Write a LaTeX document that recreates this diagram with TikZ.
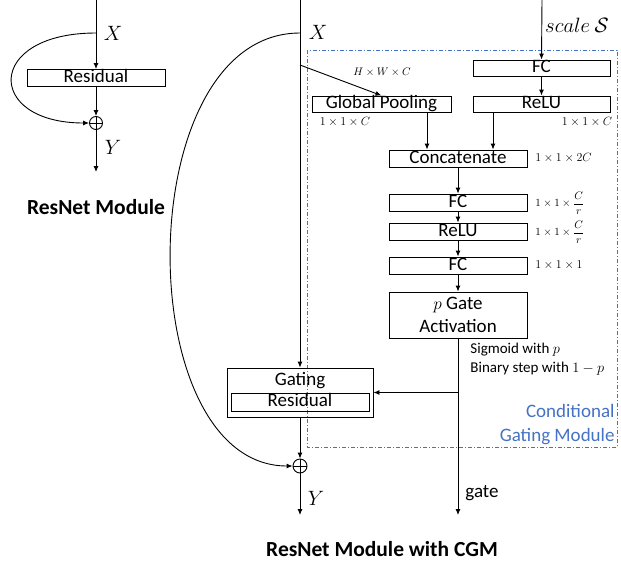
\documentclass[tikz,border=0pt]{standalone}
\usepackage{fontspec}
\setmainfont{Carlito}
\usepackage{amsmath}
\usetikzlibrary{arrows.meta}
\definecolor{cgmblue}{RGB}{68,114,196}

\begin{document}
\begin{tikzpicture}[x=1pt,y=-1pt,line width=0.9pt,
    box/.style={draw,inner sep=0pt,text height=12pt,text depth=3pt,
      minimum width=138pt,minimum height=17pt,font=\fontsize{19}{22}\selectfont},
    arr/.style={-{Latex[length=6pt,width=5pt]}},
    lbl/.style={font=\fontsize{19}{22}\selectfont,inner sep=0pt},
    var/.style={font=\fontsize{21}{24}\selectfont,inner sep=0pt},
    title/.style={font=\fontsize{21.5}{24}\selectfont\bfseries,inner sep=0pt},
    dim/.style={font=\fontsize{12}{14}\selectfont,inner sep=0pt},
    note/.style={font=\fontsize{15}{19}\selectfont,inner sep=0pt},
    plus/.style={draw,circle,inner sep=0pt,minimum size=13pt}]
    \useasboundingbox (0,0) rectangle (621,563);
    \draw[cgmblue,line width=0.8pt,dash pattern=on 4pt off 2pt on 1pt off 2pt]
      (307,50) rectangle (617,447);
    \coordinate (in1) at (96,0);
    \coordinate (tap1) at (96,33);
    \coordinate (out1) at (96,172);
    \node[box] (res1) at (96,78) {Residual};
    \node[plus] (plus1) at (96,123) {};
    \node[var] (x1) at (113,33) {$X$};
    \node[var] (y1) at (113,147) {$Y$};
    \node[title] (t1) at (96,207) {ResNet Module};
    \draw[arr] (in1) -- (res1.north);
    \draw[arr] (res1.south) -- (plus1.north);
    \draw[arr] (plus1.south) -- (out1);
    \draw (plus1.west) -- (plus1.east) (plus1.north) -- (plus1.south);
    \draw[arr] (tap1) .. controls (-15,33) and (-15,123) .. (plus1.west);
    \coordinate (in2) at (300,0);
    \coordinate (tap2) at (300,33);
    \coordinate (tap3) at (300,65);
    \coordinate (out2) at (300,515);
    \coordinate (sin) at (542,0);
    \coordinate (gout) at (458,515);
    \node[box,minimum width=139pt,minimum height=16pt] (pool) at (381.5,104) {Global Pooling};
    \node[box,minimum width=137pt,minimum height=16pt] (fc0) at (541.5,68) {FC};
    \node[box,minimum width=137pt,minimum height=16pt] (relu0) at (541.5,104) {ReLU};
    \node[box] (concat) at (458,158.5) {Concatenate};
    \node[box] (fc1) at (458,202.5) {FC};
    \node[box] (relu1) at (458,231.5) {ReLU};
    \node[box] (fc2) at (458,265.5) {FC};
    \node[draw,inner sep=0pt,minimum width=138pt,minimum height=46pt,align=center,
      font=\fontsize{19}{23}\selectfont] (gateact) at (458,315) {$p$ Gate\\Activation};
    \node[draw,minimum width=146pt,minimum height=49pt] (gating) at (300,392.5) {};
    \node[lbl] (gatingtxt) at (300,381) {Gating};
    \node[box,minimum height=18pt] (res2) at (300,402) {Residual};
    \node[plus,minimum size=14pt] (plus2) at (300,466) {};
    \node[var] (x2) at (318,32) {$X$};
    \node[var] (y2) at (316,498) {$Y$};
    \node[lbl,font=\fontsize{20}{22}\selectfont] (scl) at (577,25) {$scale\ \mathcal{S}$};
    \node[dim,font=\fontsize{10.5}{12}\selectfont] (hwc) at (382,72) {$H\times W\times C$};
    \node[dim] (d1) at (345,122) {$1\times1\times C$};
    \node[dim] (d2) at (587,122) {$1\times1\times C$};
    \node[dim,anchor=west] (d3) at (535,158) {$1\times1\times 2C$};
    \node[dim,anchor=west,font=\fontsize{11}{13}\selectfont] (d4) at (535,203) {$1\times1\times \dfrac{C}{r}$};
    \node[dim,anchor=west,font=\fontsize{11}{13}\selectfont] (d5) at (535,232) {$1\times1\times \dfrac{C}{r}$};
    \node[dim,anchor=west] (d6) at (535,265) {$1\times1\times 1$};
    \node[note,anchor=west] (sig) at (470,350) {Sigmoid with $p$};
    \node[note,anchor=west] (bin) at (470,369) {Binary step with $1-p$};
    \node[lbl,anchor=east,align=right,text=cgmblue,font=\fontsize{19}{24}\selectfont]
      (cgm) at (615,425) {Conditional\\Gating Module};
    \node[lbl] (gatetxt) at (482,493) {gate};
    \node[title] (t2) at (382,549) {ResNet Module with CGM};
    \draw[arr] (in2) -- (gating.north);
    \draw[arr] (gating.south) -- (plus2.north);
    \draw[arr] (plus2.south) -- (out2);
    \draw (plus2.west) -- (plus2.east) (plus2.north) -- (plus2.south);
    \draw[arr] (tap2) .. controls (129,33) and (129,466) .. (plus2.west);
    \draw[arr] (tap3) -- (pool.north);
    \draw[arr] (sin) -- (fc0.north);
    \draw[arr] (fc0) -- (relu0);
    \draw[arr] ([xshift=45.5pt]pool.south) -- ([xshift=45.5pt]pool.south |- concat.north);
    \draw[arr] ([xshift=-48.5pt]relu0.south) -- ([xshift=-48.5pt]relu0.south |- concat.north);
    \draw[arr] (concat) -- (fc1);
    \draw[arr] (fc1) -- (relu1);
    \draw[arr] (relu1) -- (fc2);
    \draw[arr] (fc2) -- (gateact);
    \draw[arr] (gateact.south) -- (gout);
    \draw[arr] (gateact.south |- gating.east) -- (gating.east);
  \end{tikzpicture}
\end{document}
